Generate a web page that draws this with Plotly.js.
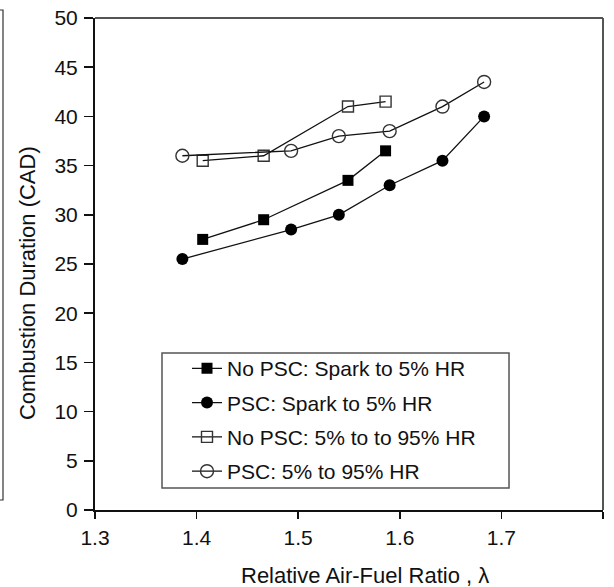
<!DOCTYPE html>
<html>
<head>
<meta charset="utf-8">
<script src="https://cdn.plot.ly/plotly-3.0.1.min.js"></script>
<style>html,body{margin:0;padding:0;background:#fff;}#chart{width:614px;height:587px;}</style>
</head>
<body>
<div id="chart"></div>
<script>
// Relative air-fuel ratio (lambda) for each series
const lambdaNoPSC = [1.406, 1.466, 1.549, 1.586];
const lambdaPSC = [1.386, 1.493, 1.540, 1.590, 1.642, 1.683];
// Combustion duration (CAD)
const noPscSpark = [27.5, 29.5, 33.5, 36.5];
const pscSpark = [25.5, 28.5, 30.0, 33.0, 35.5, 40.0];
const noPsc595 = [35.5, 36.0, 41.0, 41.5];
const psc595 = [36.0, 36.5, 38.0, 38.5, 41.0, 43.5];
const seriesNames = [
  'No PSC: Spark to 5% HR',
  'PSC: Spark to 5% HR',
  'No PSC: 5% to to 95% HR',
  'PSC: 5% to 95% HR'
];
const xTitle = 'Relative Air-Fuel Ratio , \u03bb';
const yTitle = 'Combustion Duration (CAD)';

const FONT = 'Liberation Sans, Arial, sans-serif';
const lineStyle = {color: '#111', width: 1.3};

const traces = [
  {x: lambdaNoPSC, y: noPscSpark, name: seriesNames[0], legendgroup: 'a', mode: 'lines+markers', line: lineStyle,
   marker: {symbol: 'square', size: 11, color: '#000'}},
  {x: lambdaPSC, y: pscSpark, name: seriesNames[1], legendgroup: 'b', mode: 'lines+markers', line: lineStyle,
   marker: {symbol: 'circle', size: 12, color: '#000'}},
  {x: lambdaNoPSC, y: noPsc595, name: seriesNames[2], legendgroup: 'c', mode: 'lines+markers', line: lineStyle,
   marker: {symbol: 'square-open', size: 11, color: '#333', line: {width: 1.4}}},
  {x: lambdaPSC, y: psc595, name: seriesNames[3], legendgroup: 'd', mode: 'lines+markers', line: lineStyle,
   marker: {symbol: 'circle-open', size: 13, color: '#333', line: {width: 1.4}}}
];

const layout = {
  width: 614, height: 587,
  margin: {l: 95, r: 11, t: 18, b: 77, pad: 0},
  paper_bgcolor: '#fff', plot_bgcolor: '#fff',
  font: {family: FONT, size: 21, color: '#111'},
  showlegend: true,
  xaxis: {
    range: [1.3, 1.8], dtick: 0.1, tick0: 1.3, tickformat: '.1f',
    showgrid: false, zeroline: false,
    showline: true, linecolor: '#111', linewidth: 2,
    ticks: 'outside', ticklen: 7, tickwidth: 1.5, tickcolor: '#111',
    ticklabelstandoff: 1,
    tickfont: {family: FONT, size: 21, color: '#111'}
  },
  yaxis: {
    range: [0, 50], dtick: 5, tick0: 0,
    showgrid: false, zeroline: false,
    showline: true, linecolor: '#111', linewidth: 2,
    ticks: 'outside', ticklen: 9, tickwidth: 1.5, tickcolor: '#111',
    ticklabelstandoff: 2,
    tickfont: {family: FONT, size: 21, color: '#111'}
  },
  legend: {
    x: 0.1811, y: 0.329, xanchor: 'left', yanchor: 'top',
    bgcolor: 'rgba(0,0,0,0)', borderwidth: 0,
    font: {family: FONT, size: 21, color: '#111'},
    traceorder: 'grouped', tracegroupgap: 4
  },
  annotations: [
    {text: xTitle, xref: 'paper', yref: 'paper', x: 0.531, y: -0.134,
     xanchor: 'center', yanchor: 'middle', showarrow: false,
     font: {family: FONT, size: 22, color: '#111'}},
    {text: yTitle, xref: 'paper', yref: 'paper', x: -0.134, y: 0.461,
     xanchor: 'center', yanchor: 'middle', showarrow: false, textangle: -90,
     font: {family: FONT, size: 22, color: '#111'}}
  ],
  shapes: [
    {type: 'line', xref: 'paper', yref: 'paper', x0: 0, x1: 1, y0: 1, y1: 1,
     line: {color: '#555', width: 2}},
    {type: 'line', xref: 'paper', yref: 'paper', x0: 1, x1: 1, y0: 0, y1: 1,
     line: {color: '#555', width: 2}},
    {type: 'rect', xref: 'paper', yref: 'paper', x0: 0.1319, x1: 0.8150, y0: 0.0447, y1: 0.3191,
     fillcolor: '#fff', line: {color: '#555', width: 1.5}},
    {type: 'rect', xref: 'paper', yref: 'paper', x0: -0.25, x1: -0.1811, y0: 0.0203, y1: 1.0163,
     line: {color: '#333', width: 1.2}}
  ]
};

Plotly.newPlot('chart', traces, layout, {displayModeBar: false, staticPlot: true});
</script>
</body>
</html>
